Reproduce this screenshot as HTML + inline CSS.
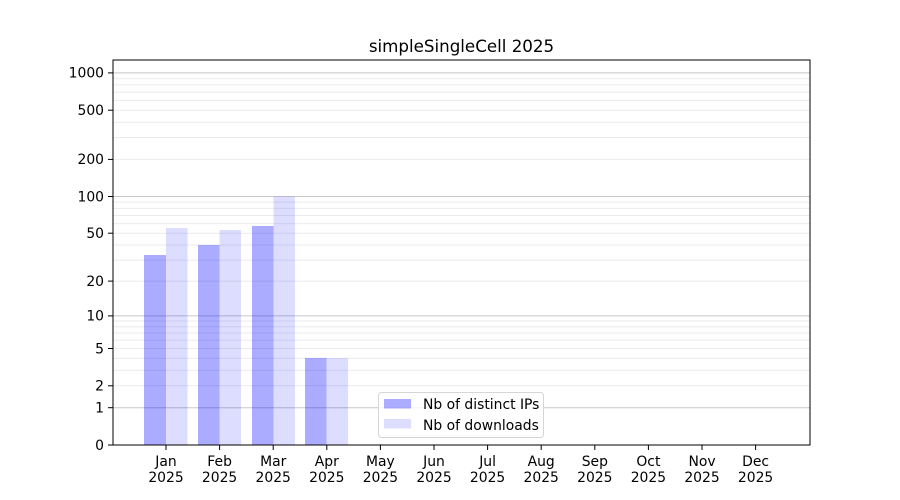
<!DOCTYPE html>
<html><head><meta charset="utf-8"><style>body{margin:0;background:#fff}svg{display:block}text{font-family:"DejaVu Sans","Liberation Sans",sans-serif;font-size:13.9px;fill:#000}</style></head>
<body>
<svg width="900" height="500" viewBox="0 0 900 500">
<rect width="900" height="500" fill="#fff"/>
<g stroke="#ebebeb" stroke-width="1">
<line x1="113" x2="810" y1="385.8" y2="385.8"/><line x1="113" x2="810" y1="370.3" y2="370.3"/><line x1="113" x2="810" y1="358.3" y2="358.3"/><line x1="113" x2="810" y1="348.5" y2="348.5"/><line x1="113" x2="810" y1="340.2" y2="340.2"/><line x1="113" x2="810" y1="333" y2="333"/><line x1="113" x2="810" y1="326.7" y2="326.7"/><line x1="113" x2="810" y1="321" y2="321"/>
<line x1="113" x2="810" y1="281.1" y2="281.1"/><line x1="113" x2="810" y1="260.1" y2="260.1"/><line x1="113" x2="810" y1="245" y2="245"/><line x1="113" x2="810" y1="233.2" y2="233.2"/><line x1="113" x2="810" y1="223.6" y2="223.6"/><line x1="113" x2="810" y1="215.5" y2="215.5"/><line x1="113" x2="810" y1="208.4" y2="208.4"/><line x1="113" x2="810" y1="202.1" y2="202.1"/>
<line x1="113" x2="810" y1="159.4" y2="159.4"/><line x1="113" x2="810" y1="137.5" y2="137.5"/><line x1="113" x2="810" y1="122.2" y2="122.2"/><line x1="113" x2="810" y1="110.2" y2="110.2"/><line x1="113" x2="810" y1="100.4" y2="100.4"/><line x1="113" x2="810" y1="92.1" y2="92.1"/><line x1="113" x2="810" y1="84.9" y2="84.9"/><line x1="113" x2="810" y1="78.6" y2="78.6"/>
</g>
<g stroke="#c8c8c8" stroke-width="1">
<line x1="113" x2="810" y1="407.7" y2="407.7"/><line x1="113" x2="810" y1="315.9" y2="315.9"/><line x1="113" x2="810" y1="196.5" y2="196.5"/><line x1="113" x2="810" y1="72.9" y2="72.9"/>
</g>
<g fill="rgba(0,0,255,0.33)">
<rect x="144" y="255" width="22" height="190"/>
<rect x="198" y="245" width="21.5" height="200"/>
<rect x="252" y="226" width="21.5" height="219"/>
<rect x="305" y="358" width="21.5" height="87"/>
</g>
<g fill="rgba(0,0,255,0.135)">
<rect x="166" y="228" width="21.5" height="217"/>
<rect x="219.5" y="230" width="21.5" height="215"/>
<rect x="273.5" y="196.5" width="21.5" height="248.5"/>
<rect x="326.5" y="358" width="21.5" height="87"/>
</g>
<rect x="113" y="60" width="697" height="385" fill="none" stroke="#000" stroke-width="1"/>
<g stroke="#000">
<line x1="108" x2="113" y1="445" y2="445"/><line x1="108" x2="113" y1="407.7" y2="407.7"/><line x1="108" x2="113" y1="385.8" y2="385.8"/><line x1="108" x2="113" y1="348.5" y2="348.5"/><line x1="108" x2="113" y1="315.9" y2="315.9"/><line x1="108" x2="113" y1="281.1" y2="281.1"/><line x1="108" x2="113" y1="233.2" y2="233.2"/><line x1="108" x2="113" y1="196.5" y2="196.5"/><line x1="108" x2="113" y1="159.4" y2="159.4"/><line x1="108" x2="113" y1="110.2" y2="110.2"/><line x1="108" x2="113" y1="72.9" y2="72.9"/>
</g>
<g text-anchor="end">
<text x="104" y="450">0</text><text x="104" y="412.5">1</text><text x="104" y="390.5">2</text><text x="104" y="353.5">5</text><text x="104" y="320.5">10</text><text x="104" y="286">20</text><text x="104" y="238">50</text><text x="104" y="201.5">100</text><text x="104" y="164">200</text><text x="104" y="115">500</text><text x="104" y="77.5">1000</text>
</g>
<g stroke="#000">
<line x1="166" x2="166" y1="445" y2="450"/><line x1="219.6" x2="219.6" y1="445" y2="450"/><line x1="273.2" x2="273.2" y1="445" y2="450"/><line x1="326.8" x2="326.8" y1="445" y2="450"/><line x1="380.4" x2="380.4" y1="445" y2="450"/><line x1="434" x2="434" y1="445" y2="450"/><line x1="487.6" x2="487.6" y1="445" y2="450"/><line x1="541.2" x2="541.2" y1="445" y2="450"/><line x1="594.8" x2="594.8" y1="445" y2="450"/><line x1="648.4" x2="648.4" y1="445" y2="450"/><line x1="702" x2="702" y1="445" y2="450"/><line x1="755.6" x2="755.6" y1="445" y2="450"/>
</g>
<g text-anchor="middle">
<text x="166" y="466">Jan</text><text x="166" y="482">2025</text>
<text x="219.6" y="466">Feb</text><text x="219.6" y="482">2025</text>
<text x="273.2" y="466">Mar</text><text x="273.2" y="482">2025</text>
<text x="326.8" y="466">Apr</text><text x="326.8" y="482">2025</text>
<text x="380.4" y="466">May</text><text x="380.4" y="482">2025</text>
<text x="434" y="466">Jun</text><text x="434" y="482">2025</text>
<text x="487.6" y="466">Jul</text><text x="487.6" y="482">2025</text>
<text x="541.2" y="466">Aug</text><text x="541.2" y="482">2025</text>
<text x="594.8" y="466">Sep</text><text x="594.8" y="482">2025</text>
<text x="648.4" y="466">Oct</text><text x="648.4" y="482">2025</text>
<text x="702" y="466">Nov</text><text x="702" y="482">2025</text>
<text x="755.6" y="466">Dec</text><text x="755.6" y="482">2025</text>
<text x="461.5" y="52" style="font-size:16.7px">simpleSingleCell 2025</text>
</g>
<rect x="378.5" y="392.5" width="165" height="45" rx="3" fill="rgba(255,255,255,0.8)" stroke="#d6d6d6"/>
<rect x="384" y="399" width="27" height="9.5" fill="rgba(0,0,255,0.33)"/>
<rect x="384" y="419" width="27" height="9.5" fill="rgba(0,0,255,0.135)"/>
<text x="423" y="409">Nb of distinct IPs</text>
<text x="423" y="430">Nb of downloads</text>
</svg>
</body></html>
